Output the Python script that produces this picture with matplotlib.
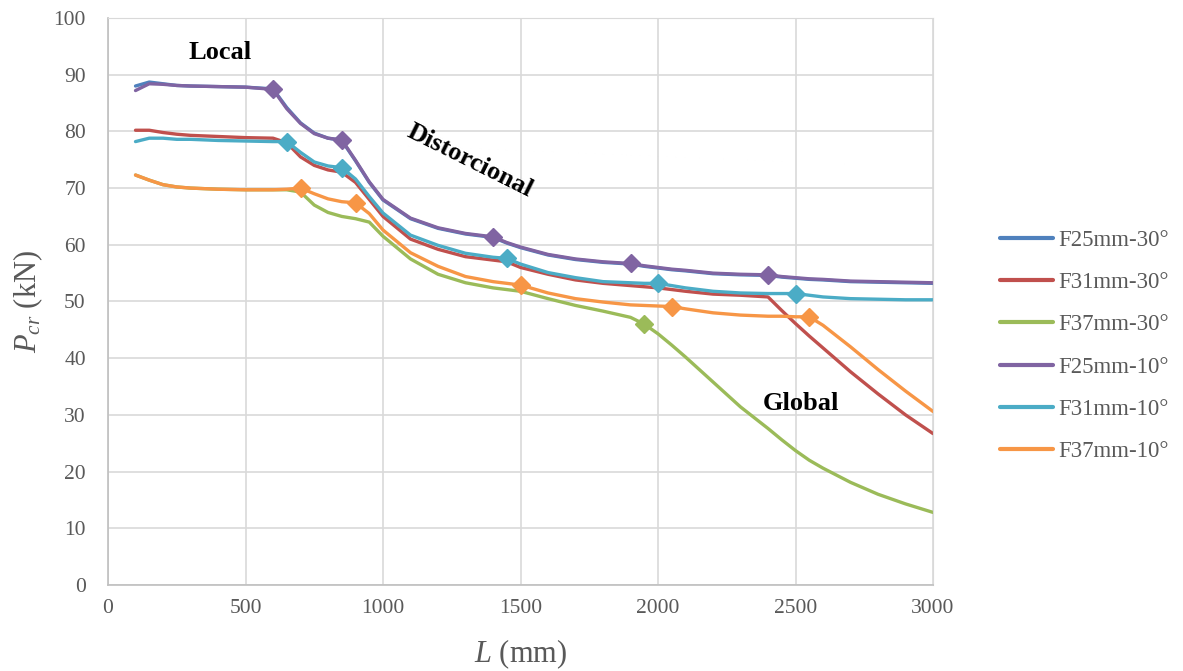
import matplotlib
matplotlib.use("Agg")
import matplotlib.pyplot as plt

# comprimento L (mm)
L = [100, 150, 200, 250, 300, 400, 500, 600, 650, 700, 750, 800, 850, 900, 950,
     1000, 1100, 1200, 1300, 1400, 1450, 1500, 1600, 1700, 1800, 1900, 1950, 2000,
     2050, 2100, 2200, 2300, 2400, 2450, 2500, 2550, 2600, 2700, 2800, 2900, 3000]

# carga critica Pcr (kN)
f25_30 = [88.0, 88.7, 88.4, 88.1, 88.0, 87.9, 87.8, 87.5, 84.2, 81.5, 79.7, 78.8, 78.4, 74.8, 71.0,
          67.9, 64.6, 62.9, 61.9, 61.3, 60.3, 59.5, 58.2, 57.4, 56.9, 56.6, 56.2, 55.9,
          55.6, 55.4, 54.9, 54.7, 54.6, 54.3, 54.1, 53.9, 53.8, 53.5, 53.4, 53.3, 53.2]
f31_30 = [80.2, 80.2, 79.8, 79.5, 79.3, 79.1, 78.9, 78.8, 78.0, 75.5, 74.0, 73.2, 72.8, 71.0, 68.0,
          65.0, 61.0, 59.2, 57.9, 57.3, 57.0, 56.0, 54.8, 53.8, 53.2, 52.8, 52.6, 52.4,
          52.1, 51.8, 51.3, 51.1, 50.8, 48.4, 46.1, 43.9, 41.8, 37.6, 33.7, 30.0, 26.7]
f37_30 = [72.3, 71.4, 70.6, 70.2, 70.0, 69.8, 69.7, 69.7, 69.7, 69.3, 67.0, 65.7, 65.0, 64.6, 64.0,
          61.5, 57.5, 54.8, 53.3, 52.4, 52.1, 51.8, 50.5, 49.3, 48.3, 47.2, 46.0, 44.3,
          42.3, 40.2, 35.8, 31.4, 27.6, 25.6, 23.7, 22.0, 20.6, 18.1, 16.0, 14.3, 12.8]
f25_10 = [87.2, 88.4, 88.3, 88.1, 88.0, 87.9, 87.8, 87.4, 84.0, 81.4, 79.6, 78.8, 78.5, 74.9, 71.1,
          68.0, 64.7, 63.0, 62.0, 61.4, 60.4, 59.6, 58.3, 57.5, 57.0, 56.7, 56.3, 56.0,
          55.7, 55.5, 55.0, 54.8, 54.7, 54.4, 54.2, 54.0, 53.9, 53.6, 53.5, 53.4, 53.3]
f31_10 = [78.2, 78.8, 78.8, 78.6, 78.6, 78.4, 78.3, 78.2, 78.2, 76.3, 74.6, 73.9, 73.6, 71.6, 68.5,
          65.6, 61.7, 59.9, 58.5, 57.8, 57.6, 56.6, 55.1, 54.2, 53.5, 53.3, 53.2, 53.2,
          52.8, 52.4, 51.8, 51.5, 51.4, 51.4, 51.4, 51.1, 50.8, 50.5, 50.4, 50.3, 50.3]
f37_10 = [72.3, 71.4, 70.6, 70.2, 70.0, 69.8, 69.7, 69.7, 69.8, 70.0, 69.0, 68.1, 67.6, 67.4, 65.5,
          62.6, 58.6, 56.2, 54.4, 53.5, 53.2, 52.9, 51.5, 50.5, 49.9, 49.4, 49.3, 49.2,
          49.1, 48.7, 48.0, 47.6, 47.4, 47.4, 47.3, 47.3, 45.8, 42.0, 38.0, 34.2, 30.6]

# pontos de mudanca de modo (marcadores)
mk_f25_10 = [600, 850, 1400, 1900, 2400]
mk_f31_10 = [650, 850, 1450, 2000, 2500]
mk_f37_10 = [700, 900, 1500, 2050, 2550]
mk_f37_30 = [1950]

series = [
    ("F25mm-30°", f25_30, "#4F81BD", []),
    ("F31mm-30°", f31_30, "#C0504D", []),
    ("F37mm-30°", f37_30, "#9BBB59", mk_f37_30),
    ("F25mm-10°", f25_10, "#8064A2", mk_f25_10),
    ("F31mm-10°", f31_10, "#4BACC6", mk_f31_10),
    ("F37mm-10°", f37_10, "#F79646", mk_f37_10),
]

plt.rcParams['font.family'] = ['Liberation Serif', 'DejaVu Serif']
plt.rcParams['mathtext.fontset'] = 'custom'
plt.rcParams['mathtext.it'] = 'Liberation Serif:italic'
plt.rcParams['mathtext.rm'] = 'Liberation Serif'

fig = plt.figure(figsize=(11.83, 6.71), dpi=100)
ax = fig.add_axes([0.0913, 0.1282, 0.6974, 0.845])

for name, vals, col, mk in series:
    idx = [L.index(v) for v in mk]
    ax.plot(L, vals, color=col, lw=2.4, label=name, marker='D', markersize=9,
            markevery=idx if idx else [], solid_capstyle='round')

ax.set_xlim(0, 3000)
ax.set_ylim(0, 100)
ax.set_xticks(range(0, 3001, 500))
ax.set_yticks(range(0, 101, 10))
ax.grid(True, color='#D9D9D9', linewidth=1.2)
ax.set_axisbelow(True)
ax.tick_params(length=0, labelsize=15.5, labelcolor='#595959')
ax.tick_params(axis='x', pad=10)
ax.tick_params(axis='y', pad=16)
for s in ['top', 'right']:
    ax.spines[s].set_color('#D9D9D9')
for s in ['left', 'bottom']:
    ax.spines[s].set_color('#BFBFBF')
    ax.spines[s].set_linewidth(1.2)

ax.set_xlabel(r'$L$ (mm)', fontsize=22, color='#595959', labelpad=14)
ax.set_ylabel(r'$P_{cr}$ (kN)', fontsize=22, color='#595959', labelpad=6)

ax.text(407, 93.9, 'Local', fontsize=19, fontweight='bold', ha='center', va='center')
ax.text(1316, 74.9, 'Distorcional', fontsize=19, fontweight='bold', ha='center', va='center',
        rotation=-26.5)
ax.text(2520, 32.0, 'Global', fontsize=19, fontweight='bold', ha='center', va='center')

leg = fig.legend(loc='center left', bbox_to_anchor=(0.8355, 0.4844), frameon=False,
                 fontsize=16.5, handlelength=2.3, handletextpad=0.25, labelspacing=0.92,
                 borderpad=0)
for t in leg.get_texts():
    t.set_color('#595959')
for h in leg.legend_handles:
    h.set_marker('')
    h.set_linewidth(3)

fig.savefig('out.png', dpi=100)
